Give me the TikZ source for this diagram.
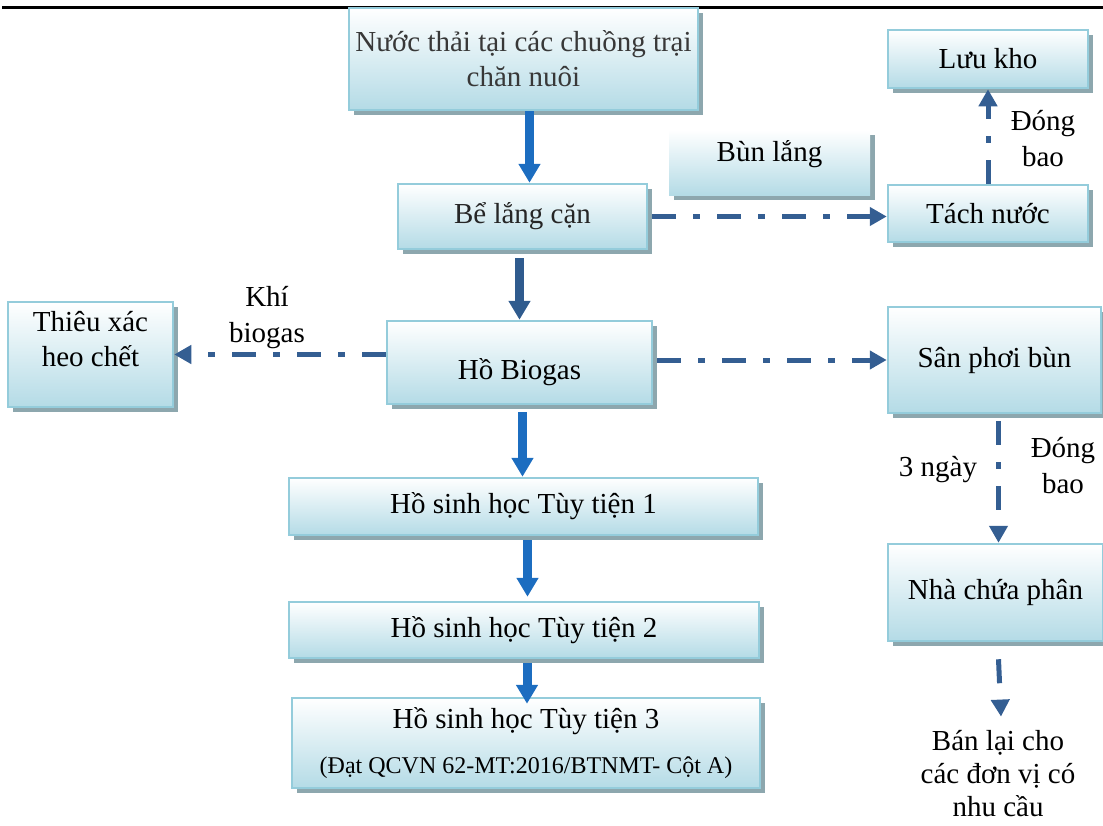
\documentclass[tikz,border=0pt]{standalone}
\usepackage{fontspec}
\setmainfont{Liberation Serif}
\usetikzlibrary{arrows.meta,shadows}
\definecolor{boxline}{HTML}{94CCDB}
\definecolor{boxfill}{HTML}{B4DBE6}
\definecolor{boxshadow}{HTML}{8DA7AE}
\definecolor{flowblue}{HTML}{1C6DC0}
\definecolor{flowsteel}{HTML}{2F5B8E}
\definecolor{dashblue}{HTML}{345E92}
\tikzset{
  box/.style={draw=boxline, line width=2.5pt, top color=white, bottom color=boxfill,
    drop shadow={shadow xshift=5pt, shadow yshift=-5pt, fill=boxshadow, opacity=1},
    align=center, inner sep=3pt, text=black,
    font=\fontsize{29}{35}\selectfont},
  plainbox/.style={box, draw=none},
  lbl/.style={align=center, inner sep=2pt, font=\fontsize{29}{36}\selectfont},
  mainflow/.style={line width=9pt, flowblue, -{Triangle[width=21pt,length=19pt]}},
  sideflow/.style={line width=5pt, dashblue, dash pattern=on 24pt off 17pt on 7pt off 17pt,
    -{Triangle[width=18pt,length=17pt]}}
}
\begin{document}
\begin{tikzpicture}[x=1pt,y=-1pt]
\useasboundingbox (0,0) rectangle (1103,825);
\draw[line width=3pt] (2,7) -- (1103,7);

\node[box, minimum width=349pt, minimum height=102pt, text=black!78] (nuoc) at (523.5,59)
  {Nước thải tại các chuồng trại\\chăn nuôi};
\node[box, minimum width=249pt, minimum height=65pt, text=black!85] (belang) at (522.5,216.5) {Bể lắng cặn};
\node[plainbox, minimum width=201pt, minimum height=65pt, text depth=24pt] (bunlang) at (769.5,162.5) {Bùn lắng};
\node[box, minimum width=200pt, minimum height=57pt] (tach) at (988,213.5) {Tách nước};
\node[box, minimum width=200pt, minimum height=58pt] (luukho) at (988,59) {Lưu kho};
\node[box, minimum width=165pt, minimum height=105pt, text depth=32pt] (thieu) at (90.5,354.5)
  {Thiêu xác\\heo chết};
\node[box, minimum width=265pt, minimum height=83pt, text height=40pt] (biogas) at (519.5,362.5) {Hồ Biogas};
\node[box, minimum width=213pt, minimum height=106pt] (sanphoi) at (994.5,360) {Sân phơi bùn};
\node[box, minimum width=469pt, minimum height=57pt] (hsh1) at (523.5,506.5) {Hồ sinh học Tùy tiện 1};
\node[box, minimum width=470pt, minimum height=56pt] (hsh2) at (524,630) {Hồ sinh học Tùy tiện 2};
\node[box, minimum width=468pt, minimum height=90pt] (hsh3) at (526,743)
  {Hồ sinh học Tùy tiện 3\\[10pt]{\fontsize{24}{28}\selectfont(Đạt QCVN 62-MT:2016/BTNMT- Cột A)}};
\node[box, minimum width=215pt, minimum height=97pt] (nhachua) at (995.5,592.5) {Nhà chứa phân};
\node[lbl, font=\fontsize{29}{33}\selectfont] (ban) at (998,774) {Bán lại cho\\các đơn vị có\\nhu cầu};

\node[lbl] (dongbao1) at (1043,139) {Đóng\\bao};
\node[lbl] (khi) at (267,318) {Khí\\biogas};
\node[lbl] (ngay) at (938,470) {3 ngày};
\node[lbl] (dongbao2) at (1063,466) {Đóng\\bao};

\draw[mainflow] ([xshift=6pt]nuoc.south) -- ([xshift=6pt]nuoc.south |- belang.north);
\draw[mainflow, flowsteel] ([yshift=-8pt]biogas.north |- belang.south) -- (biogas.north);
\draw[mainflow] ([xshift=3pt,yshift=-7pt]biogas.south) -- ([xshift=3pt]biogas.south |- hsh1.north);
\draw[mainflow] ([xshift=4pt,yshift=-4pt]hsh1.south) -- ([xshift=4pt,yshift=4pt]hsh1.south |- hsh2.north);
\draw[mainflow] ([xshift=3pt,yshift=-4pt]hsh2.south) -- ([xshift=3pt,yshift=-7pt]hsh2.south |- hsh3.north);

\draw[sideflow] ([xshift=4pt]belang.east) -- (belang.east -| tach.west);
\draw[sideflow] (tach.north) -- (tach.north |- luukho.south);
\draw[sideflow] (biogas.west |- thieu.east) -- (thieu.east);
\draw[sideflow] (biogas.east |- sanphoi.west) ++(4,0) -- (sanphoi.west);
\draw[sideflow] ([xshift=4pt,yshift=-7pt]sanphoi.south) -- ([xshift=4pt]sanphoi.south |- nhachua.north);
\draw[sideflow] ([xshift=3pt,yshift=-17pt]nhachua.south) -- ([xshift=3pt,yshift=12pt]ban.north);
\end{tikzpicture}
\end{document}
